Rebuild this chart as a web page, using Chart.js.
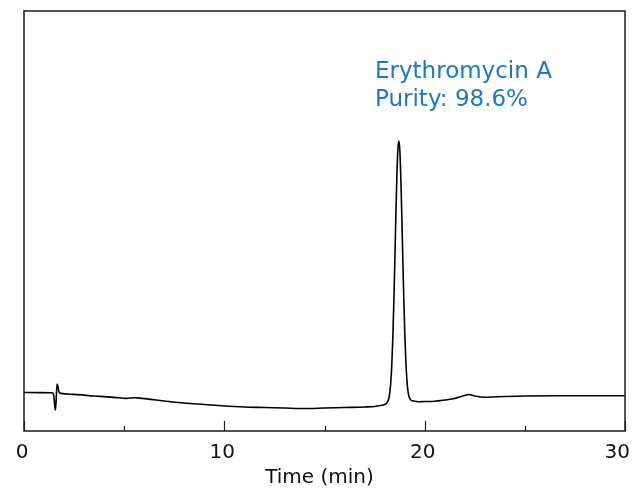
<!DOCTYPE html>
<html>
<head>
<meta charset="utf-8">
<script src="https://cdn.jsdelivr.net/npm/chart.js@4/dist/chart.umd.min.js"></script>
<style>
  html, body { margin: 0; padding: 0; background: #fff; }
  #wrap { width: 634px; height: 489px; }
</style>
</head>
<body>
<div id="wrap"><canvas id="chart" width="634" height="489"></canvas></div>
<script>
// retention time (min) and detector signal (arbitrary units)
var times = [0, 0.8, 1.4, 1.48, 1.53, 1.57, 1.61, 1.65, 1.69, 1.75, 1.85, 2.5, 3.5, 4.5, 5.1, 5.5, 5.9,
  7, 8, 9, 10, 11, 12, 13, 14, 15, 16, 17, 17.5, 17.8, 18.0, 18.11, 18.21, 18.26, 18.31, 18.36,
  18.41, 18.46, 18.51, 18.56, 18.61, 18.66, 18.71, 18.76, 18.81, 18.86, 18.91, 18.96, 19.01,
  19.06, 19.11, 19.16, 19.21, 19.31, 19.45, 19.7, 20, 20.5, 21, 21.5, 21.9, 22.2, 22.5, 23,
  24, 25, 27, 30];
var signal = [38.5, 38.4, 38.2, 36, 26, 21, 33, 47, 45, 39, 37.6, 36.6, 35, 33.6, 32.6, 33.3, 32.6,
  30, 28, 26.5, 25, 24, 23.5, 23, 22.5, 23, 23.5, 24, 24.5, 25.5, 26.5, 28, 32.5, 38.6, 49, 67,
  93, 128, 169, 214, 253, 281, 290, 281, 253, 215, 171, 131, 96,
  70, 52, 41, 35, 31, 30, 29.3, 29.5, 29.8, 31, 32.5, 35, 36.5, 35, 33.8,
  34.5, 35, 35.2, 35.3];

var majorTicks = [0, 10, 20, 30];
var minorTicks = [5, 15, 25];
var xTitle = 'Time (min)';
var peakLabel = ['Erythromycin A', 'Purity: 98.6%'];

var points = times.map(function(t, i){ return { x: t, y: signal[i] }; });

// frame, inward ticks, labels and the peak annotation
var decor = {
  id: 'decor',
  afterDraw: function(chart){
    var ctx = chart.ctx, a = chart.chartArea, xs = chart.scales.x;
    ctx.save();
    ctx.strokeStyle = '#1a1a1a';
    ctx.lineWidth = 1.5;
    ctx.strokeRect(a.left, a.top, a.right - a.left, a.bottom - a.top);

    ctx.lineWidth = 1.2;
    ctx.beginPath();
    majorTicks.forEach(function(v){
      var px = Math.round(xs.getPixelForValue(v)) + 0.5;
      ctx.moveTo(px, a.bottom); ctx.lineTo(px, a.bottom - 10);
    });
    minorTicks.forEach(function(v){
      var px = Math.round(xs.getPixelForValue(v)) + 0.5;
      ctx.moveTo(px, a.bottom); ctx.lineTo(px, a.bottom - 5);
    });
    ctx.stroke();

    ctx.fillStyle = '#111';
    ctx.font = '20px "DejaVu Sans"';
    ctx.textAlign = 'center';
    ctx.textBaseline = 'alphabetic';
    majorTicks.forEach(function(v){
      var label = String(v);
      var w = ctx.measureText(label).width;
      var px = xs.getPixelForValue(v);
      px = Math.min(Math.max(px, w / 2 + 2), chart.width - w / 2 - 2);
      ctx.fillText(label, px - 2, a.bottom + 27);
    });
    ctx.font = '20px "DejaVu Sans"';
    ctx.fillText(xTitle, (a.left + a.right) / 2 - 5, a.bottom + 52);

    ctx.fillStyle = '#1b78c4';
    ctx.font = '23px "DejaVu Sans"';
    ctx.textAlign = 'left';
    var lx = xs.getPixelForValue(17.52);
    ctx.fillText(peakLabel[0], lx, 78);
    ctx.fillText(peakLabel[1], lx, 106);
    ctx.restore();
  }
};

new Chart(document.getElementById('chart'), {
  type: 'line',
  data: {
    datasets: [{
      data: points,
      borderColor: '#000',
      borderWidth: 1.6,
      pointRadius: 0,
      cubicInterpolationMode: 'monotone',
      fill: false
    }]
  },
  options: {
    responsive: false,
    animation: false,
    layout: { padding: { left: 24, top: 11, right: 9, bottom: 58 } },
    plugins: { legend: { display: false }, tooltip: { enabled: false } },
    scales: {
      x: { type: 'linear', min: 0, max: 30, display: false },
      y: { min: 0, max: 420, display: false }
    }
  },
  plugins: [decor]
});
</script>
</body>
</html>
